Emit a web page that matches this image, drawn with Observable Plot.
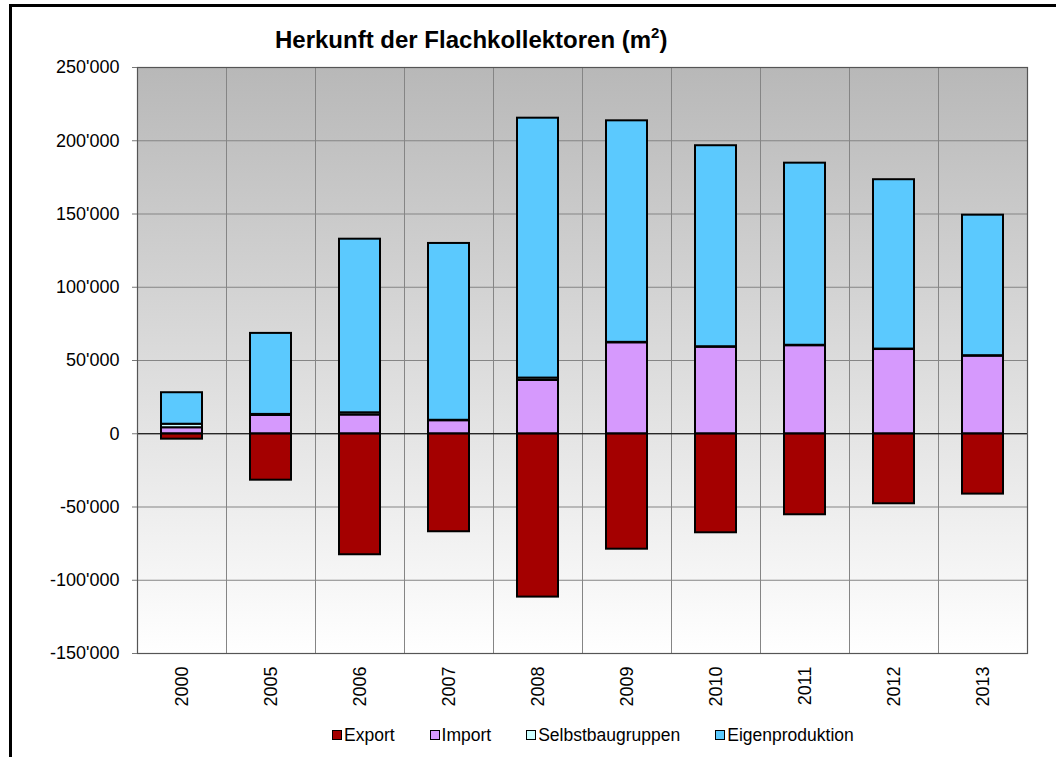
<!DOCTYPE html>
<html>
<head>
<meta charset="utf-8">
<script src="https://cdn.jsdelivr.net/npm/d3@7"></script>
<script src="https://cdn.jsdelivr.net/npm/@observablehq/plot@0.6"></script>
<style>
  html, body { margin: 0; padding: 0; background: #fff; overflow: hidden; }
  body { width: 1056px; height: 757px; position: relative; font-family: "Liberation Sans", Arial, sans-serif; }
  #frame { position: absolute; left: 9px; top: 4px; width: 1100px; height: 800px;
           border-left: 3px solid #000; border-top: 3px solid #000; box-sizing: border-box; }
  #title { position: absolute; left: 275px; top: 28px; font-size: 24px; font-weight: bold; line-height: 1; white-space: nowrap; color: #000; }
  #title sup { font-size: 15px; vertical-align: 10px; line-height: 0; }
  #chart { position: absolute; left: 0; top: 0; }
  #legend { position: absolute; left: 332px; top: 724px; display: flex; gap: 35px; font-size: 17.5px; line-height: 22px; color: #000; white-space: nowrap; }
  #legend .item { display: flex; align-items: center; }
  #legend .sw { width: 8px; height: 8px; border: 1.5px solid #000; margin-right: 2px; }
</style>
</head>
<body>
<div id="frame"></div>
<div id="chart"></div>
<div id="title">Herkunft der Flachkollektoren (m<sup>2</sup>)</div>
<div id="legend"></div>
<script>
// ---- data ----
const years = ["2000","2005","2006","2007","2008","2009","2010","2011","2012","2013"];
const seriesNames = ["Export","Import","Selbstbaugruppen","Eigenproduktion"];
const exportVals = [-3700, -31700, -82600, -66900, -111500, -78800, -67600, -55300, -47800, -41200];
const importVals = [4100, 12500, 12800, 8900, 36400, 62100, 59100, 60100, 57500, 53000];
const selbstVals = [2400, 700, 1500, 300, 1600, 300, 300, 300, 300, 300];
const eigenVals  = [21500, 55300, 118500, 120700, 177400, 151200, 137200, 124300, 115600, 95900];
const yTicks = [-150000, -100000, -50000, 0, 50000, 100000, 150000, 200000, 250000];

// ---- build table ----
const seriesValues = [exportVals, importVals, selbstVals, eigenVals];
const rows = [];
years.forEach((yr, i) => {
  seriesNames.forEach((s, j) => rows.push({year: yr, series: s, value: seriesValues[j][i]}));
});

const colors = ["#a40000", "#d699fd", "#ccffff", "#5bc9fe"];
const W = 1056, H = 710;
const mL = 137, mR = 29, mT = 67, mB = 57;
const step = (W - mL - mR) / years.length;

const loc = d3.formatLocale({decimal: ".", thousands: "'", grouping: [3], currency: ["", ""], minus: "-"});
const fmt = loc.format(",");

const plot = Plot.plot({
  width: W, height: H,
  marginLeft: mL, marginRight: mR, marginTop: mT, marginBottom: mB,
  style: {fontFamily: "'Liberation Sans', Arial, sans-serif", color: "#000", background: "transparent"},
  x: {domain: years, paddingInner: 0.54, paddingOuter: 0.27, label: null},
  y: {domain: [-150000, 250000], label: null},
  color: {domain: seriesNames, range: colors},
  marks: [
    Plot.frame({fill: "#cccccc", stroke: null}),
    Plot.ruleY(yTicks, {stroke: "#858585", strokeWidth: 1}),
    Plot.ruleX(years.slice(1), {stroke: "#858585", strokeWidth: 1, dx: -step / 2}),
    Plot.barY(rows, {x: "year", y: "value", fill: "series", stroke: "#000", strokeWidth: 2, order: seriesNames}),
    Plot.ruleY([0], {stroke: "#000", strokeWidth: 1.2}),
    Plot.frame({stroke: "#555", strokeWidth: 1.2}),
    Plot.axisY({ticks: yTicks, tickFormat: fmt, tickSize: 5, tickPadding: 13, fontSize: 18, stroke: "#777"}),
    Plot.axisX({tickRotate: -90, tickSize: 0, tickPadding: 13, fontSize: 18})
  ]
});
document.getElementById("chart").appendChild(plot);

// gradient background for the plot area
const svg = d3.select(plot);
const defs = svg.insert("defs", ":first-child");
const grad = defs.append("linearGradient").attr("id", "bgGrad")
  .attr("x1", 0).attr("y1", 0).attr("x2", 0).attr("y2", 1);
grad.append("stop").attr("offset", "0%").attr("stop-color", "#b8b8b8");
grad.append("stop").attr("offset", "100%").attr("stop-color", "#ffffff");
svg.selectAll("rect").filter(function () {
  const f = (this.getAttribute("fill") || "").toLowerCase();
  const pf = this.parentNode && this.parentNode.getAttribute ? (this.parentNode.getAttribute("fill") || "").toLowerCase() : "";
  return f === "#cccccc" || (f === "" && pf === "#cccccc");
}).attr("fill", "url(#bgGrad)");

// legend
const legend = d3.select("#legend");
seriesNames.forEach((s, i) => {
  const it = legend.append("div").attr("class", "item");
  it.append("div").attr("class", "sw").style("background", colors[i]);
  it.append("span").text(s);
});
</script>
</body>
</html>
